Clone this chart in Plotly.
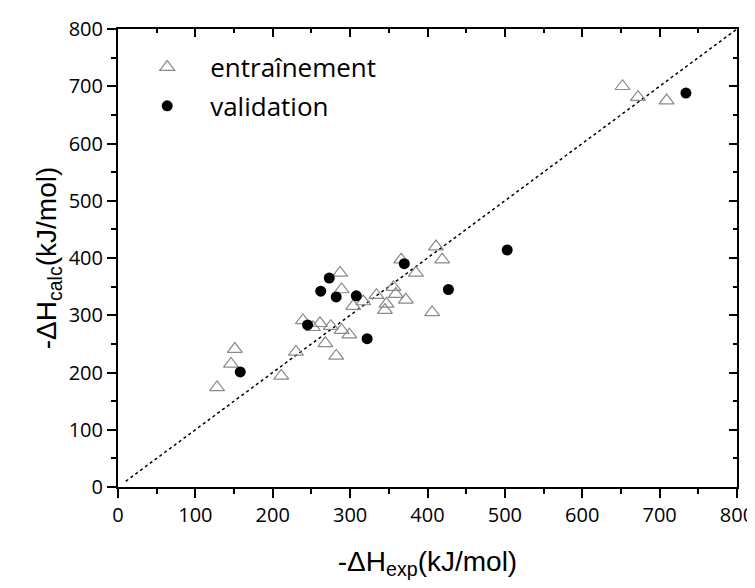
import plotly.graph_objects as go

# Training set (entraînement): experimental vs calculated
train_exp = [411, 419, 366, 287, 385, 289, 356, 359, 334, 317, 304, 372, 347, 345, 406,
             239, 261, 252, 275, 289, 299, 268, 282, 230, 211, 151, 146, 128, 652, 672, 709]
train_calc = [420, 397, 397, 374, 374, 345, 349, 337, 335, 324, 316, 327, 320, 309, 305,
              291, 286, 279, 281, 274, 266, 251, 229, 236, 194, 241, 215, 174, 700, 681, 675]

# Validation set
val_exp = [370, 273, 262, 282, 308, 427, 245, 322, 503, 158, 734]
val_calc = [390, 365, 342, 332, 334, 345, 283, 259, 414, 201, 688]

# Identity line
line_x = [10, 800]
line_y = [10, 800]

tick_vals = [0, 100, 200, 300, 400, 500, 600, 700, 800]

fig = go.Figure()

fig.add_trace(go.Scatter(x=line_x, y=line_y, mode="lines",
                         line=dict(color="black", width=1.5, dash="dot"),
                         showlegend=False, hoverinfo="skip"))

fig.add_trace(go.Scatter(x=train_exp, y=train_calc, mode="markers", name="entraînement",
                         legendgroup="a",
                         marker=dict(symbol="triangle-up-open", size=13,
                                     color="#8a8a8a", line=dict(width=1.2, color="#8a8a8a"))))

fig.add_trace(go.Scatter(x=val_exp, y=val_calc, mode="markers", name="validation",
                         legendgroup="b",
                         marker=dict(symbol="circle", size=11, color="black")))

# invisible trace to anchor mirrored axes
fig.add_trace(go.Scatter(x=[0], y=[0], xaxis="x2", yaxis="y2", mode="markers",
                         marker=dict(opacity=0), showlegend=False, hoverinfo="skip"))

axis_common = dict(range=[0, 800], tickvals=tick_vals, showgrid=False, zeroline=False,
                   showline=True, linecolor="black", linewidth=2, automargin=False,
                   ticks="outside", ticklen=9, tickwidth=2, tickcolor="black",
                   minor=dict(ticks="outside", dtick=50, ticklen=5, tickwidth=2, tickcolor="black"),
                   tickfont=dict(family="Open Sans", size=20, color="black"))

mirror_common = dict(range=[0, 800], tickvals=tick_vals, showgrid=False, zeroline=False,
                     showline=True, linecolor="black", linewidth=2, automargin=False,
                     ticks="inside", ticklen=8, tickwidth=2, tickcolor="black",
                     minor=dict(ticks="inside", dtick=50, ticklen=4, tickwidth=2, tickcolor="black"),
                     showticklabels=False)

fig.update_layout(
    width=755, height=588,
    paper_bgcolor="white", plot_bgcolor="white",
    margin=dict(l=110, r=26, t=21, b=109),
    xaxis=dict(**axis_common,
               title=dict(text="-ΔH<sub>exp</sub>(kJ/mol)",
                          font=dict(family="Liberation Sans", size=28, color="black"),
                          standoff=24)),
    yaxis=dict(**axis_common,
               title=dict(text="-ΔH<sub>calc</sub>(kJ/mol)",
                          font=dict(family="Liberation Sans", size=28, color="black"),
                          standoff=4)),
    xaxis2=dict(**mirror_common, overlaying="x", side="top", matches="x"),
    yaxis2=dict(**mirror_common, overlaying="y", side="right", matches="y"),
    legend=dict(x=0.01, y=0.968, xanchor="left", yanchor="top",
                bgcolor="rgba(0,0,0,0)", tracegroupgap=2, itemwidth=76,
                font=dict(family="Open Sans", size=26, color="black")),
)

fig.write_html("out.html")
